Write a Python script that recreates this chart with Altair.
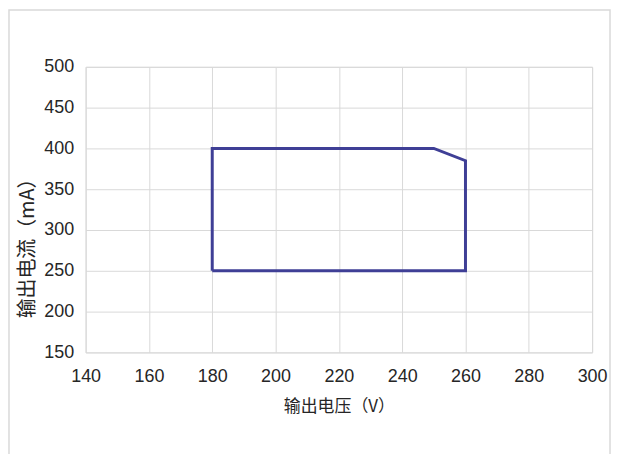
import altair as alt
import pandas as pd

voltage = [180, 180, 250, 260, 260, 180]
current = [250, 400, 400, 385, 250, 250]
order = [0, 1, 2, 3, 4, 5]

x_ticks = [140, 160, 180, 200, 220, 240, 260, 280, 300]
y_ticks = [150, 200, 250, 300, 350, 400, 450, 500]

df = pd.DataFrame({"v": voltage, "i": current, "o": order})

W, H = 509, 287
FONT = "Liberation Sans Narrow, Liberation Sans, Arial"

frame = alt.Chart(pd.DataFrame({"a": [0]})).mark_rect(
    fill="white", fillOpacity=0, stroke="#d9d9d9", strokeWidth=1.5
).encode(
    x=alt.value(-77), x2=alt.value(527), y=alt.value(-57), y2=alt.value(420)
)

line = alt.Chart(df).mark_line(color="#3f3f96", strokeWidth=3, strokeJoin="miter").encode(
    x=alt.X("v:Q", scale=alt.Scale(domain=[140, 300], nice=False),
            axis=alt.Axis(values=x_ticks, title="输出电压（V）", grid=True,
                          domain=False, ticks=False, labelPadding=15,
                          labelFlush=False, labelOverlap=False,
                          labelFont=FONT, labelFontSize=18, labelColor="#262626",
                          titleFont="Noto Sans CJK SC", titleFontSize=17,
                          titleFontWeight="normal", titleColor="#262626",
                          titlePadding=13)),
    y=alt.Y("i:Q", scale=alt.Scale(domain=[150, 500], nice=False),
            axis=alt.Axis(values=y_ticks, title="输出电流（mA）", grid=True,
                          domain=False, ticks=False, labelPadding=12,
                          labelFlush=False, labelOverlap=False,
                          labelFont=FONT, labelFontSize=18, labelColor="#262626",
                          titleFont="Noto Sans CJK SC", titleFontSize=20,
                          titleFontWeight="normal", titleColor="#262626",
                          titleX=-58, titleY=177, titleBaseline="middle",
                          titleAngle=270)),
    order="o:Q",
)

chart = alt.layer(line, frame).properties(
    width=W, height=H,
    autosize=alt.AutoSizeParams(type="none"),
    padding={"left": 78, "top": 58, "right": 20, "bottom": 101},
).configure_view(stroke="#d9d9d9").configure_axis(
    gridColor="#d9d9d9", gridWidth=1
)

chart.save("out.html", embed_options={"renderer": "svg", "actions": False})
